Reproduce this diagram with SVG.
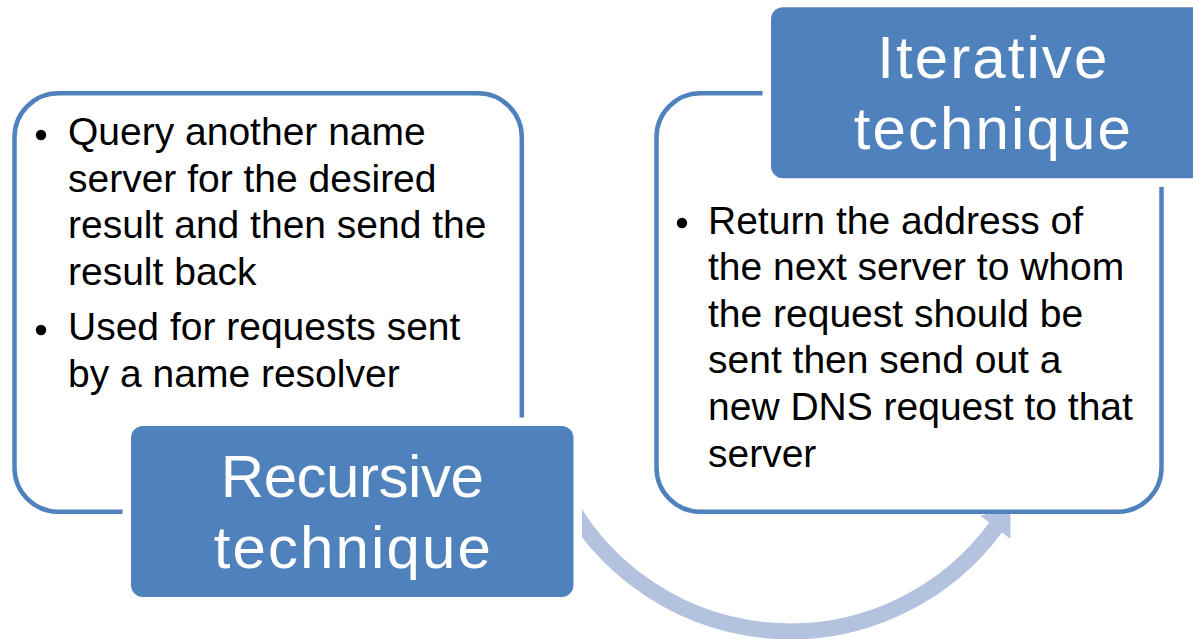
<svg xmlns="http://www.w3.org/2000/svg" width="1193" height="639" viewBox="0 0 1193 639">
<style>
.panel{fill:#ffffff;stroke:#4f81bd;stroke-width:4.5}
.halo{fill:#ffffff;stroke:none}
.title{fill:#4f81bd;stroke:none}
.ttl{font-family:"Liberation Sans",Arial,sans-serif;font-size:60px;fill:#ffffff;text-anchor:middle}
.body{font-family:"Liberation Sans",Arial,sans-serif;font-size:39px;fill:#000000}
.bul{fill:#000000}
.arc{fill:none;stroke:#b3c3df;stroke-width:16}
.head{fill:#b3c3df}
</style>
<rect width="1193" height="639" fill="#ffffff"/>
<g id="connectors">
<path class="arc" d="M560,486 A255,255 0 0 0 996.5,526.3"/>
<polygon class="head" points="980.3,515.7 1010.6,506.6 1010.3,538.7"/>
</g>
<g id="recursive-panel">
<rect class="panel" x="14.5" y="93.3" width="507.3" height="418.5" rx="44" ry="44"/>
<circle class="bul" cx="41" cy="135" r="5.2"/>
<text class="body" x="68" y="145">Query another name</text>
<text class="body" x="68" y="191.7">server for the desired</text>
<text class="body" x="68" y="238.3">result and then send the</text>
<text class="body" x="68" y="285">result back</text>
<circle class="bul" cx="41" cy="330" r="5.2"/>
<text class="body" x="68" y="340">Used for requests sent</text>
<text class="body" x="68" y="386.7">by a name resolver</text>
</g>
<g id="iterative-panel">
<rect class="panel" x="656.5" y="93.3" width="505" height="418.5" rx="44" ry="44"/>
<circle class="bul" cx="682" cy="223" r="5.2"/>
<text class="body" x="708" y="234">Return the address of</text>
<text class="body" x="708" y="280">the next server to whom</text>
<text class="body" x="708" y="326.7">the request should be</text>
<text class="body" x="708" y="373.3">sent then send out a</text>
<text class="body" x="708" y="420">new DNS request to that</text>
<text class="body" x="708" y="466.7">server</text>
</g>
<g id="recursive-title">
<rect class="halo" x="122.5" y="417.5" width="459.5" height="188" rx="20" ry="20"/>
<rect class="title" x="131" y="426" width="442.5" height="171" rx="12" ry="12"/>
<text class="ttl" x="352.3" y="497" textLength="263">Recursive</text>
<text class="ttl" x="352.3" y="568" textLength="277">technique</text>
</g>
<g id="iterative-title">
<rect class="halo" x="762.5" y="-1" width="460" height="188" rx="20" ry="20"/>
<rect class="title" x="771" y="7.3" width="442.5" height="171" rx="12" ry="12"/>
<text class="ttl" x="992.3" y="78.3" textLength="230">Iterative</text>
<text class="ttl" x="992.3" y="149.3" textLength="277">technique</text>
</g>
</svg>
